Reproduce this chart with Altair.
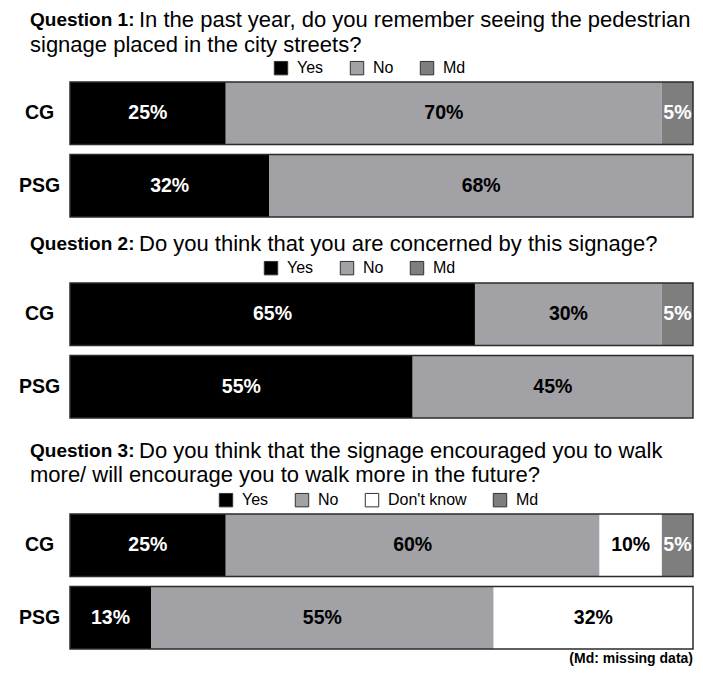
import altair as alt
import pandas as pd

FONT = "Liberation Sans"

groups = ["CG", "PSG"]
resp_q12 = ["Yes", "No", "Md"]
resp_q3 = ["Yes", "No", "Don't know", "Md"]

q1_cg = [25, 70, 5]
q1_psg = [32, 68, 0]
q2_cg = [65, 30, 5]
q2_psg = [55, 45, 0]
q3_cg = [25, 60, 10, 5]
q3_psg = [13, 55, 32, 0]

titles_bold = ["Question 1:", "Question 2:", "Question 3:"]
titles_rest = [
    ["In the past year, do you remember seeing the pedestrian",
     "signage placed in the city streets?"],
    ["Do you think that you are concerned by this signage?"],
    ["Do you think that the signage encouraged you to walk",
     "more/ will encourage you to walk more in the future?"],
]
footnote = "(Md: missing data)"

colors = {"Yes": "#000000", "No": "#a2a1a6", "Don't know": "#ffffff", "Md": "#7e7e7e"}

W = 623


def make_df(responses, cg, psg):
    rows = []
    for g, vals in zip(groups, [cg, psg]):
        for i, (r, v) in enumerate(zip(responses, vals)):
            rows.append({"group": g, "response": r, "pct": v, "idx": i})
    return pd.DataFrame(rows)


def text_layer(txt, x, y, size, weight, align="left"):
    return alt.Chart(pd.DataFrame({"t": [txt]})).mark_text(
        align=align, baseline="middle", font=FONT, fontSize=size,
        fontWeight=weight, color="black"
    ).encode(x=alt.value(x), y=alt.value(y), text="t:N")


def panel(qi, responses, cg, psg, height, po, lx, ly, ty, foot=False):
    df = make_df(responses, cg, psg)
    base = alt.Chart(df)
    yenc = alt.Y(
        "group:N", sort=groups,
        scale=alt.Scale(domain=groups, paddingInner=0.14, paddingOuter=po, align=0),
        axis=alt.Axis(title=None, domain=False, ticks=False, tickSize=0,
                      labelPadding=31, labelAlign="center", labelFontSize=19.5,
                      labelFontWeight="bold", labelColor="black", labelFont=FONT),
    )
    xscale = alt.Scale(domain=[0, 100], nice=False, zero=True)
    stacked = base.transform_stack(
        stack="pct", groupby=["group"], as_=["x0", "x1"], sort=[alt.SortField("idx")]
    )
    bars = stacked.mark_bar().encode(
        y=yenc,
        x=alt.X("x0:Q", scale=xscale, axis=None),
        x2="x1:Q",
        color=alt.Color(
            "response:N",
            scale=alt.Scale(domain=responses, range=[colors[r] for r in responses]),
            legend=alt.Legend(
                title=None, orient="none", legendX=lx, legendY=ly,
                direction="horizontal", symbolType="square", symbolSize=180,
                symbolStrokeColor="#333333", symbolStrokeWidth=1,
                labelFontSize=16, labelFont=FONT, labelColor="black",
                columnPadding=24, labelOffset=8,
            ),
        ),
    )
    outline = base.transform_aggregate(
        total="sum(pct)", groupby=["group"]
    ).mark_bar(fillOpacity=0, stroke="#2b2b2b", strokeWidth=1.5).encode(
        y=alt.Y("group:N", sort=groups),
        x=alt.X("total:Q", scale=xscale, axis=None),
    )
    labels = stacked.transform_filter("datum.pct > 0").transform_calculate(
        mid="(datum.x0 + datum.x1) / 2", lab="datum.pct + '%'"
    ).mark_text(font=FONT, fontSize=19.5, fontWeight="bold", baseline="middle").encode(
        y=alt.Y("group:N", sort=groups),
        x=alt.X("mid:Q", scale=xscale, axis=None),
        text="lab:N",
        color=alt.condition(
            alt.FieldOneOfPredicate(field="response", oneOf=["Yes", "Md"]),
            alt.value("white"), alt.value("black"),
        ),
    )
    rest = titles_rest[qi]
    layers = [bars, outline, labels,
              text_layer(titles_bold[qi], -40, ty[0], 19, "bold"),
              text_layer(rest[0], 69, ty[0], 22, "normal")]
    if len(rest) == 2:
        layers.append(text_layer(rest[1], -40, ty[1], 22, "normal"))
    if foot:
        layers.append(text_layer(footnote, W, 145, 14, "bold", align="right"))
    return alt.layer(*layers).properties(width=W, height=height)


p1 = panel(0, resp_q12, q1_cg, q1_psg, 135, 0, 203, -22, [-62, -37])
p2 = panel(1, resp_q12, q2_cg, q2_psg, 165, 0.2065, 193, -23, [-39])
p3 = panel(2, resp_q3, q3_cg, q3_psg, 135, 0, 148, -22, [-63, -39], foot=True)

chart = alt.vconcat(p1, p2, p3, spacing=66, bounds="flush").resolve_scale(
    color="independent", y="independent", x="independent"
).resolve_legend(color="independent").configure_view(strokeWidth=0).properties(
    padding={"left": 10, "top": 1, "right": 0, "bottom": 0}
)

chart.save("out.html", embed_options={"renderer": "svg", "actions": False})
